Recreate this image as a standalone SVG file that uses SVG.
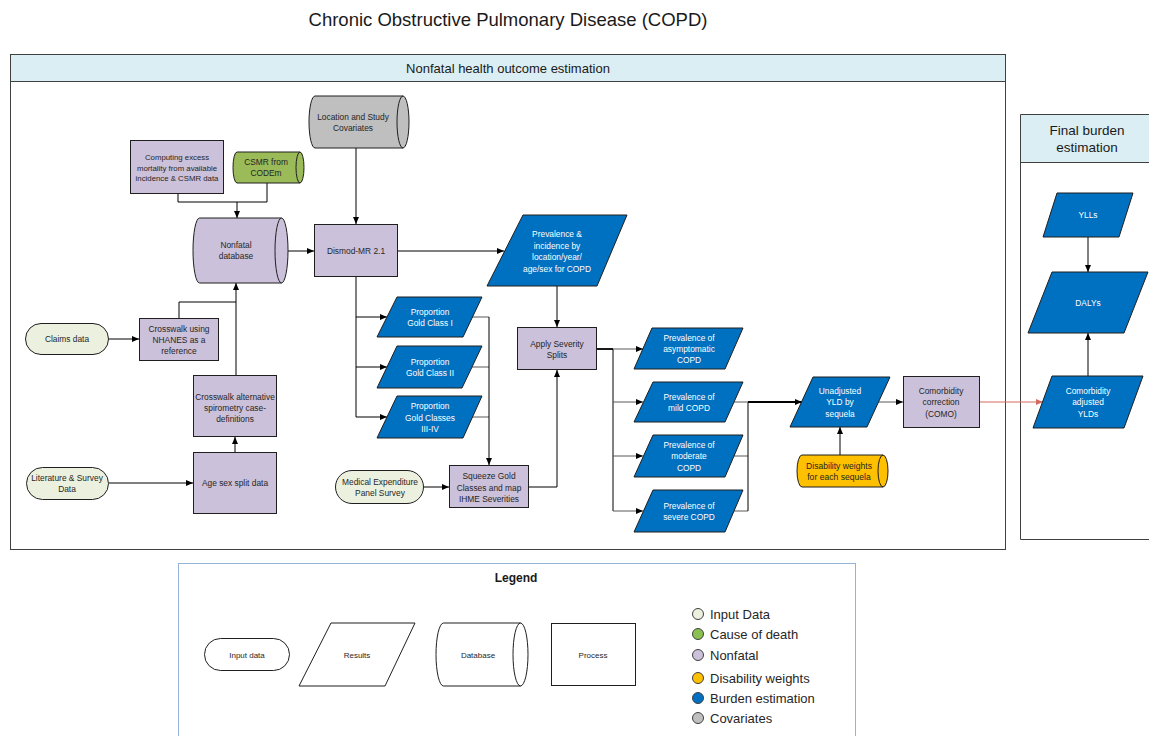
<svg xmlns="http://www.w3.org/2000/svg" width="1149" height="736" viewBox="0 0 1149 736">
<style>
  .n{stroke:#1f1f1f;stroke-width:1}
  .np{fill:#CCC1DA}
  .bl{fill:#0070C0}
  .in{fill:#EBF1DE}
  .gr{fill:#9BBB59}
  .cv{fill:#BFBFBF}
  .dw{fill:#FFC000}
  .wh{fill:#fff}
  .t{font-family:"Liberation Sans",Arial,sans-serif;font-size:8.4px;fill:#262626;text-anchor:middle}
  .tw{fill:#fff}
  .c{fill:none;stroke:#000;stroke-width:1}
  .cg{fill:none;stroke:#595959;stroke-width:1}
  .ck{fill:none;stroke:#000;stroke-width:1.8}
  .cr{fill:none;stroke:#D46A5E;stroke-width:1}
  .lg{font-family:"Liberation Sans",Arial,sans-serif;font-size:13px;fill:#262626}
</style>
<defs>
  <marker id="ah" markerUnits="userSpaceOnUse" markerWidth="8" markerHeight="8" refX="7" refY="4" orient="auto">
    <path d="M0,1 L7,4 L0,7 Z" fill="#000"/>
  </marker>
  <marker id="ahr" markerUnits="userSpaceOnUse" markerWidth="8" markerHeight="8" refX="7" refY="4" orient="auto">
    <path d="M0,1 L7,4 L0,7 Z" fill="#D46A5E"/>
  </marker>
</defs>
<rect width="1149" height="736" fill="#fff"/>

<text x="508" y="26" style="font-family:'Liberation Sans',Arial,sans-serif;font-size:18.5px;fill:#1a1a1a;text-anchor:middle">Chronic Obstructive Pulmonary Disease (COPD)</text>

<!-- swimlane: nonfatal estimation -->
<g id="lane-nonfatal">
  <rect x="10.5" y="54.5" width="995" height="495" fill="#fff" stroke="#404040"/>
  <rect x="10.5" y="54.5" width="995" height="27" fill="#DAEEF3" stroke="#404040"/>
  <text x="508" y="72.5" style="font-family:'Liberation Sans',Arial,sans-serif;font-size:13px;fill:#1a1a1a;text-anchor:middle">Nonfatal health outcome estimation</text>
</g>

<!-- swimlane: final burden (open on the right, runs past the edge) -->
<g id="lane-burden">
  <rect x="1020.5" y="114.5" width="140" height="48" fill="#DAEEF3"/>
  <path d="M1160,114.5 H1020.5 V539.5 H1160 M1020.5,162.5 H1160" fill="none" stroke="#404040"/>
  <text x="1087" y="135" style="font-family:'Liberation Sans',Arial,sans-serif;font-size:13.5px;fill:#1a1a1a;text-anchor:middle">Final burden</text>
  <text x="1087" y="152" style="font-family:'Liberation Sans',Arial,sans-serif;font-size:13.5px;fill:#1a1a1a;text-anchor:middle">estimation</text>
</g>

<!-- connectors -->
<g id="connectors">
  <path class="c" d="M178,194 V202 H267 V183"/>
  <path class="c" d="M237,202 V218" marker-end="url(#ah)"/>
  <path class="c" d="M288,251 H314" marker-end="url(#ah)"/>
  <path class="c" d="M356,148 V224" marker-end="url(#ah)"/>
  <path class="c" d="M398,251 H504" marker-end="url(#ah)"/>
  <path class="c" d="M356,277 V417"/>
  <path class="c" d="M356,317 H387" marker-end="url(#ah)"/>
  <path class="c" d="M356,367 H387" marker-end="url(#ah)"/>
  <path class="c" d="M356,417 H387" marker-end="url(#ah)"/>
  <path class="cg" d="M472,317 H489"/>
  <path class="cg" d="M472,367 H489"/>
  <path class="cg" d="M472,417 H489"/>
  <path class="c" d="M489,317 V465" marker-end="url(#ah)"/>
  <path class="c" d="M424,487 H449" marker-end="url(#ah)"/>
  <path class="c" d="M529,487 H557 V370" marker-end="url(#ah)"/>
  <path class="c" d="M557,286 V327" marker-end="url(#ah)"/>
  <path class="ck" d="M597,349 H613"/>
  <path class="c" d="M613,349 V511"/>
  <path class="cg" d="M613,349 H643" marker-end="url(#ah)"/>
  <path class="cg" d="M613,402 H643" marker-end="url(#ah)"/>
  <path class="cg" d="M613,456 H643" marker-end="url(#ah)"/>
  <path class="cg" d="M613,511 H643" marker-end="url(#ah)"/>
  <path class="cg" d="M734,456 H748"/>
  <path class="cg" d="M734,511 H748"/>
  <path class="c" d="M748,402 V511"/>
  <path class="cg" d="M734,402 H748"/>
  <path class="ck" d="M748,402 H802" marker-end="url(#ah)"/>
  <path class="cg" d="M878,402 H903" marker-end="url(#ah)"/>
  <path class="c" d="M840,455 V427" marker-end="url(#ah)"/>
  <path class="cr" d="M980,402 H1043" marker-end="url(#ahr)"/>
  <path class="c" d="M1088,237 V272" marker-end="url(#ah)"/>
  <path class="c" d="M1088,376 V333" marker-end="url(#ah)"/>
  <path class="c" d="M109,339 H139" marker-end="url(#ah)"/>
  <path class="c" d="M179,318 V302 H236"/>
  <path class="c" d="M236,375 V283" marker-end="url(#ah)"/>
  <path class="c" d="M235,452 V437" marker-end="url(#ah)"/>
  <path class="c" d="M109,483 H193" marker-end="url(#ah)"/>
</g>

<!-- nodes -->
<g id="covariates">
  <path class="n cv" d="M315,96 H403 A6,26 0 0 1 403,148 H315 A6,26 0 0 1 315,96 Z"/>
  <path class="n" fill="none" d="M403,96 A6,26 0 0 0 403,148"/>
  <text class="t" x="353" y="120">Location and Study</text>
  <text class="t" x="353" y="131">Covariates</text>
</g>

<g id="excess-mortality">
  <rect class="n np" x="130.5" y="140.5" width="93" height="53"/>
  <text class="t" x="177" y="160" style="font-size:7.8px">Computing excess</text>
  <text class="t" x="177" y="170.5" style="font-size:7.8px">mortality from available</text>
  <text class="t" x="177" y="181" style="font-size:7.8px">incidence &amp; CSMR data</text>
</g>

<g id="csmr">
  <path class="n gr" d="M237,152 H300 A4,15.5 0 0 1 300,183 H237 A4,15.5 0 0 1 237,152 Z"/>
  <path class="n" fill="none" d="M300,152 A4,15.5 0 0 0 300,183"/>
  <text class="t" x="266" y="165">CSMR from</text>
  <text class="t" x="266" y="176">CODEm</text>
</g>

<g id="nonfatal-db">
  <path class="n np" d="M199.5,218 H281.5 A6.5,32.5 0 0 1 281.5,283 H199.5 A6.5,32.5 0 0 1 199.5,218 Z"/>
  <path class="n" fill="none" d="M281.5,218 A6.5,32.5 0 0 0 281.5,283"/>
  <text class="t" x="236" y="248">Nonfatal</text>
  <text class="t" x="236" y="259">database</text>
</g>

<g id="dismod">
  <rect class="n np" x="314.5" y="224.5" width="83" height="52"/>
  <text class="t" x="356" y="254">Dismod-MR 2.1</text>
</g>

<g id="prev-incidence">
  <polygon class="n bl" points="523,215 627,215 597,286 487,286"/>
  <text class="t tw" x="557" y="237">Prevalence &amp;</text>
  <text class="t tw" x="557" y="248.5">incidence by</text>
  <text class="t tw" x="557" y="260">location/year/</text>
  <text class="t tw" x="557" y="271.5">age/sex for COPD</text>
</g>

<g id="gold-1">
  <polygon class="n bl" points="397,297 482,297 463,337 377,337"/>
  <text class="t tw" x="430" y="315">Proportion</text>
  <text class="t tw" x="430" y="326">Gold Class I</text>
</g>

<g id="gold-2">
  <polygon class="n bl" points="397,346 482,346 462,388 377,388"/>
  <text class="t tw" x="430" y="365">Proportion</text>
  <text class="t tw" x="430" y="376">Gold Class II</text>
</g>

<g id="gold-3-4">
  <polygon class="n bl" points="397,396 482,396 463,438 377,438"/>
  <text class="t tw" x="430" y="409">Proportion</text>
  <text class="t tw" x="430" y="421">Gold Classes</text>
  <text class="t tw" x="430" y="432">III-IV</text>
</g>

<g id="meps">
  <rect class="n in" x="335.5" y="470.5" width="88" height="33" rx="16.5"/>
  <text class="t" x="380" y="485">Medical Expenditure</text>
  <text class="t" x="380" y="496">Panel Survey</text>
</g>

<g id="squeeze">
  <rect class="n np" x="449.5" y="465.5" width="79" height="42"/>
  <text class="t" x="489" y="479">Squeeze Gold</text>
  <text class="t" x="489" y="491">Classes and map</text>
  <text class="t" x="489" y="502">IHME Severities</text>
</g>

<g id="severity-splits">
  <rect class="n np" x="517.5" y="327.5" width="79" height="42"/>
  <text class="t" x="557" y="347">Apply Severity</text>
  <text class="t" x="557" y="358">Splits</text>
</g>

<g id="prev-asymptomatic">
  <polygon class="n bl" points="652,328 743,328 725,369 634,369"/>
  <text class="t tw" x="689" y="341">Prevalence of</text>
  <text class="t tw" x="689" y="352">asymptomatic</text>
  <text class="t tw" x="689" y="363">COPD</text>
</g>

<g id="prev-mild">
  <polygon class="n bl" points="653,382 743,382 725,422 634,422"/>
  <text class="t tw" x="689" y="400">Prevalence of</text>
  <text class="t tw" x="689" y="411">mild COPD</text>
</g>

<g id="prev-moderate">
  <polygon class="n bl" points="653,435 743,435 725,477 634,477"/>
  <text class="t tw" x="689" y="448">Prevalence of</text>
  <text class="t tw" x="689" y="459">moderate</text>
  <text class="t tw" x="689" y="471">COPD</text>
</g>

<g id="prev-severe">
  <polygon class="n bl" points="653,490 743,490 725,532 634,532"/>
  <text class="t tw" x="689" y="509">Prevalence of</text>
  <text class="t tw" x="689" y="520">severe COPD</text>
</g>

<g id="unadjusted-yld">
  <polygon class="n bl" points="813,377 890,377 867,427 790,427"/>
  <text class="t tw" x="840" y="394">Unadjusted</text>
  <text class="t tw" x="840" y="405">YLD by</text>
  <text class="t tw" x="840" y="417">sequela</text>
</g>

<g id="disability-weights">
  <path class="n dw" d="M802,455 H883 A5,16 0 0 1 883,487 H802 A5,16 0 0 1 802,455 Z"/>
  <path class="n" fill="none" d="M883,455 A5,16 0 0 0 883,487"/>
  <text class="t" x="839" y="469" style="font-size:8.6px">Disability weights</text>
  <text class="t" x="839" y="480" style="font-size:8.6px">for each sequela</text>
</g>

<g id="como">
  <rect class="n np" x="903.5" y="376.5" width="76" height="51"/>
  <text class="t" x="941" y="394">Comorbidity</text>
  <text class="t" x="941" y="405">correction</text>
  <text class="t" x="941" y="417">(COMO)</text>
</g>

<g id="ylls">
  <polygon class="n bl" points="1057,193 1133,193 1119,237 1043,237"/>
  <text class="t tw" x="1088" y="218">YLLs</text>
</g>

<g id="dalys">
  <polygon class="n bl" points="1052,272 1148,272 1124,333 1028,333"/>
  <text class="t tw" x="1088" y="306">DALYs</text>
</g>

<g id="adjusted-ylds">
  <polygon class="n bl" points="1052,376 1143,376 1124,428 1033,428"/>
  <text class="t tw" x="1088" y="394">Comorbidity</text>
  <text class="t tw" x="1088" y="405">adjusted</text>
  <text class="t tw" x="1088" y="417">YLDs</text>
</g>

<g id="claims">
  <rect class="n in" x="25.5" y="323.5" width="83" height="31" rx="15.5"/>
  <text class="t" x="67" y="342">Claims data</text>
</g>

<g id="crosswalk-nhanes">
  <rect class="n np" x="139.5" y="318.5" width="79" height="42"/>
  <text class="t" x="179" y="332">Crosswalk using</text>
  <text class="t" x="179" y="343">NHANES as a</text>
  <text class="t" x="179" y="354">reference</text>
</g>

<g id="crosswalk-spirometry">
  <rect class="n np" x="193.5" y="375.5" width="83" height="61"/>
  <text class="t" x="235" y="400">Crosswalk alternative</text>
  <text class="t" x="235" y="411">spirometry case-</text>
  <text class="t" x="235" y="422">definitions</text>
</g>

<g id="age-sex-split">
  <rect class="n np" x="193.5" y="452.5" width="83" height="61"/>
  <text class="t" x="235" y="486">Age sex split data</text>
</g>

<g id="literature">
  <rect class="n in" x="26.5" y="467.5" width="82" height="32" rx="16"/>
  <text class="t" x="67" y="481">Literature &amp; Survey</text>
  <text class="t" x="67" y="492">Data</text>
</g>

<!-- legend -->
<g id="legend">
  <rect x="178.5" y="563.5" width="677" height="190" fill="#fff" stroke="#95B3D7"/>
  <text x="516" y="582" style="font-family:'Liberation Sans',Arial,sans-serif;font-size:12px;font-weight:bold;fill:#1a1a1a;text-anchor:middle">Legend</text>
  <rect class="n wh" x="204.5" y="638.5" width="85" height="32" rx="16"/>
  <text class="t" x="247" y="658" style="font-size:8px">Input data</text>
  <polygon class="n wh" points="331,623 415,623 385,686 299,686"/>
  <text class="t" x="357" y="658" style="font-size:8px">Results</text>
  <path class="n wh" d="M443.5,623 H520.5 A7.5,31.5 0 0 1 520.5,686 H443.5 A7.5,31.5 0 0 1 443.5,623 Z"/>
  <path class="n" fill="none" d="M520.5,623 A7.5,31.5 0 0 0 520.5,686"/>
  <text class="t" x="478" y="658" style="font-size:8px">Database</text>
  <rect class="n wh" x="551.5" y="623.5" width="84" height="62"/>
  <text class="t" x="593" y="658" style="font-size:8px">Process</text>

  <circle cx="698" cy="614" r="5.5" fill="#EBF1DE" stroke="#404040"/>
  <circle cx="698" cy="634" r="5.5" fill="#8CC152" stroke="#404040"/>
  <circle cx="698" cy="655" r="5.5" fill="#CCC1DA" stroke="#404040"/>
  <circle cx="698" cy="678" r="5.5" fill="#FFC000" stroke="#404040"/>
  <circle cx="698" cy="698" r="5.5" fill="#0070C0" stroke="#404040"/>
  <circle cx="698" cy="718" r="5.5" fill="#BFBFBF" stroke="#404040"/>
  <text class="lg" x="710" y="618.5">Input Data</text>
  <text class="lg" x="710" y="638.5">Cause of death</text>
  <text class="lg" x="710" y="659.5">Nonfatal</text>
  <text class="lg" x="710" y="682.5">Disability weights</text>
  <text class="lg" x="710" y="702.5">Burden estimation</text>
  <text class="lg" x="710" y="722.5">Covariates</text>
</g>
</svg>
